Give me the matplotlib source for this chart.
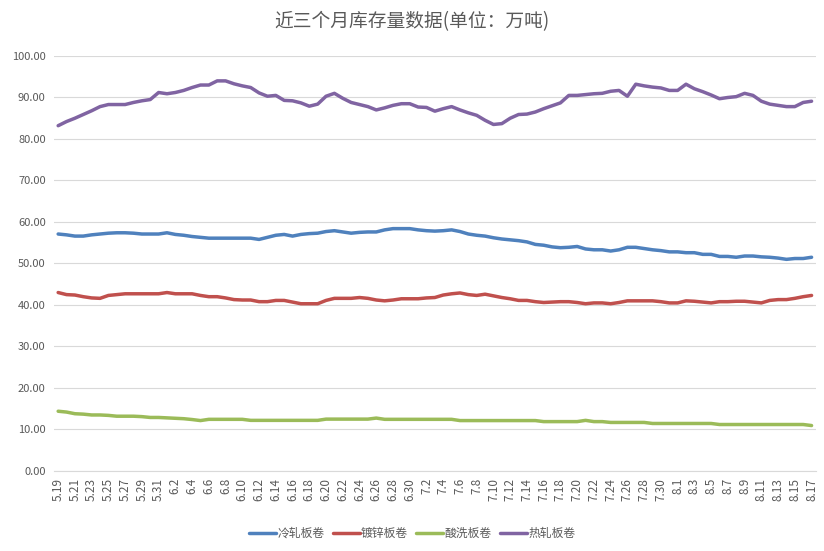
import matplotlib
matplotlib.use("Agg")
import matplotlib.pyplot as plt
import pandas as pd

plt.rcParams['font.family'] = ['Noto Sans CJK SC', 'DejaVu Sans']

dates = [f"{d.month}.{d.day}" for d in pd.date_range("2019-05-19", "2019-08-17", freq="D")]

series_names = ["冷轧板卷", "镀锌板卷", "酸洗板卷", "热轧板卷"]

cold_rolled = [57.1, 56.9, 56.6, 56.6, 56.9, 57.1, 57.3, 57.4, 57.4, 57.3,
               57.1, 57.1, 57.1, 57.4, 57.0, 56.8, 56.5, 56.3, 56.1, 56.1,
               56.1, 56.1, 56.1, 56.1, 55.8, 56.3, 56.8, 57.0, 56.6, 57.0,
               57.2, 57.3, 57.7, 57.9, 57.6, 57.3, 57.5, 57.6, 57.6, 58.1,
               58.4, 58.4, 58.4, 58.1, 57.9, 57.8, 57.9, 58.1, 57.7, 57.1,
               56.8, 56.6, 56.2, 55.9, 55.7, 55.5, 55.2, 54.6, 54.4, 54.0,
               53.8, 53.9, 54.1, 53.5, 53.3, 53.3, 53.0, 53.3, 53.9, 53.9,
               53.6, 53.3, 53.1, 52.8, 52.8, 52.6, 52.6, 52.2, 52.2, 51.7,
               51.7, 51.5, 51.8, 51.8, 51.6, 51.5, 51.3, 51.0, 51.2, 51.2,
               51.5]

galvanized = [43.0, 42.5, 42.4, 42.0, 41.7, 41.6, 42.3, 42.5, 42.7, 42.7,
              42.7, 42.7, 42.7, 43.0, 42.7, 42.7, 42.7, 42.3, 42.0, 42.0,
              41.7, 41.3, 41.2, 41.2, 40.8, 40.8, 41.1, 41.1, 40.7, 40.3,
              40.3, 40.3, 41.1, 41.6, 41.6, 41.6, 41.8, 41.6, 41.2, 41.0,
              41.2, 41.5, 41.5, 41.5, 41.7, 41.8, 42.4, 42.7, 42.9, 42.5,
              42.3, 42.6, 42.2, 41.8, 41.5, 41.1, 41.1, 40.8, 40.6, 40.7,
              40.8, 40.8, 40.6, 40.3, 40.5, 40.5, 40.3, 40.6, 41.0, 41.0,
              41.0, 41.0, 40.8, 40.5, 40.5, 41.0, 40.9, 40.7, 40.5, 40.8,
              40.8, 40.9, 40.9, 40.7, 40.5, 41.1, 41.3, 41.3, 41.6, 42.0,
              42.3]

pickled = [14.4, 14.2, 13.8, 13.7, 13.5, 13.5, 13.4, 13.2, 13.2, 13.2,
           13.1, 12.9, 12.9, 12.8, 12.7, 12.6, 12.4, 12.15, 12.45, 12.45,
           12.45, 12.45, 12.45, 12.2, 12.2, 12.2, 12.2, 12.2, 12.2, 12.2,
           12.2, 12.2, 12.5, 12.5, 12.5, 12.5, 12.5, 12.5, 12.75, 12.45,
           12.45, 12.45, 12.45, 12.45, 12.45, 12.45, 12.45, 12.45, 12.15, 12.15,
           12.15, 12.15, 12.15, 12.15, 12.15, 12.15, 12.15, 12.15, 11.9, 11.9,
           11.9, 11.9, 11.9, 12.2, 11.9, 11.9, 11.7, 11.7, 11.7, 11.7,
           11.7, 11.45, 11.45, 11.45, 11.45, 11.45, 11.45, 11.45, 11.45, 11.2,
           11.2, 11.2, 11.2, 11.2, 11.2, 11.2, 11.2, 11.2, 11.2, 11.2,
           10.95]

hot_rolled = [83.2, 84.2, 85.0, 85.9, 86.8, 87.8, 88.3, 88.3, 88.3, 88.8,
              89.2, 89.5, 91.2, 90.9, 91.2, 91.7, 92.4, 93.0, 93.0, 94.0,
              94.0, 93.3, 92.8, 92.4, 91.1, 90.3, 90.5, 89.3, 89.2, 88.7,
              87.9, 88.4, 90.3, 91.0, 89.8, 88.8, 88.3, 87.8, 87.0, 87.5,
              88.1, 88.5, 88.5, 87.7, 87.6, 86.7, 87.3, 87.8, 87.0, 86.3,
              85.7, 84.5, 83.5, 83.7, 85.0, 85.9, 86.0, 86.5, 87.3, 88.0,
              88.7, 90.5, 90.5, 90.7, 90.9, 91.0, 91.5, 91.7, 90.3, 93.2,
              92.8, 92.5, 92.3, 91.7, 91.7, 93.2, 92.1, 91.4, 90.6, 89.7,
              90.0, 90.2, 91.0, 90.5, 89.1, 88.4, 88.1, 87.8, 87.8, 88.8,
              89.1]

colors = ["#4F81BD", "#C0504D", "#9BBB59", "#8064A2"]
yticks = [0, 10, 20, 30, 40, 50, 60, 70, 80, 90, 100]

fig = plt.figure(figsize=(8.24, 5.51), dpi=100)
ax = fig.add_axes([0.0655, 0.1452, 0.9245, 0.7532])

x = list(range(len(dates)))
for vals, name, c in zip([cold_rolled, galvanized, pickled, hot_rolled], series_names, colors):
    ax.plot(x, vals, color=c, lw=2.5, label=name, solid_joinstyle='round', solid_capstyle='round')

ax.set_xlim(-0.5, len(dates) - 0.5)
ax.set_ylim(0, 100)
ax.set_yticks(yticks)
ax.set_yticklabels([f"{v:.2f}" for v in yticks], fontsize=8, color="#595959")
ax.set_xticks(x[::2])
ax.set_xticklabels(dates[::2], rotation=90, fontsize=8.5, color="#595959")
ax.tick_params(axis='both', length=0)
ax.tick_params(axis='x', pad=5)
ax.tick_params(axis='y', pad=6)
ax.grid(axis='y', color="#D9D9D9", lw=0.8)
ax.set_axisbelow(True)
for s in ["top", "right", "left"]:
    ax.spines[s].set_visible(False)
ax.spines["bottom"].set_color("#D9D9D9")
ax.spines["bottom"].set_linewidth(0.8)

fig.text(0.5, 0.96, "近三个月库存量数据(单位：万吨)", ha='center', va='center',
         fontsize=13.5, color="#595959")

fig.legend(loc='center', bbox_to_anchor=(0.5, 0.032), ncol=4, frameon=False,
           fontsize=8.5, handlelength=2.3, handletextpad=0.1, columnspacing=0.7,
           labelcolor="#595959")

fig.savefig("out.png", dpi=100)
